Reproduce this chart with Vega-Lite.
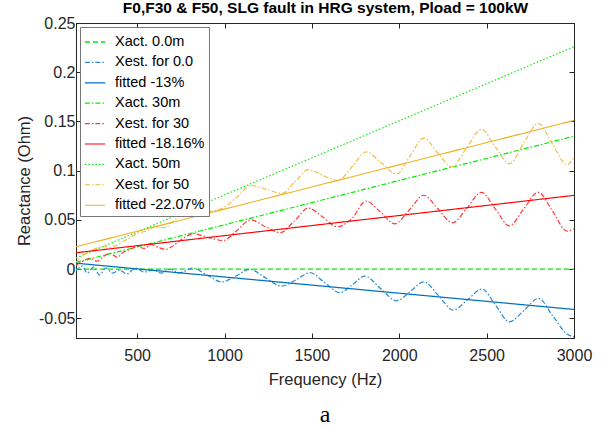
{
  "$schema": "https://vega.github.io/schema/vega-lite/v6.json",
  "autosize": "none",
  "width": 498,
  "height": 315,
  "padding": {"left": 76, "top": 23, "right": 33, "bottom": 88},
  "background": "white",
  "title": {"text": "a", "orient": "bottom", "anchor": "middle", "font": "Liberation Serif", "fontSize": 24, "fontWeight": "normal", "color": "#000", "offset": 15},
  "config": {
    "view": {"stroke": "#262626", "strokeWidth": 1},
    "axis": {"grid": false, "labelFlush": false, "labelOverlap": false, "labelFont": "Liberation Sans", "labelFontSize": 16, "labelColor": "#262626", "titleFont": "Liberation Sans", "titleFontSize": 16.5, "titleFontWeight": "normal", "titleColor": "#262626", "domainColor": "#262626", "tickColor": "#262626", "tickSize": -5, "domainWidth": 1, "tickWidth": 1}
  },
  "data": {"values": [
    {"s": "Xact. 0.0m", "f": 150, "x": 0},
    {"s": "Xact. 0.0m", "f": 3000, "x": 0},
    {"s": "Xact. 30m", "f": 150, "x": 0.0068},
    {"s": "Xact. 30m", "f": 3000, "x": 0.135},
    {"s": "Xact. 50m", "f": 150, "x": 0.0113},
    {"s": "Xact. 50m", "f": 3000, "x": 0.226},
    {"s": "fitted -13%", "f": 150, "x": 0.006},
    {"s": "fitted -13%", "f": 3000, "x": -0.041},
    {"s": "fitted -18.16%", "f": 150, "x": 0.0166},
    {"s": "fitted -18.16%", "f": 3000, "x": 0.0749},
    {"s": "fitted -22.07%", "f": 150, "x": 0.0227},
    {"s": "fitted -22.07%", "f": 3000, "x": 0.151},
    {"s": "Xest. for 0.0", "f": 150, "x": -0.002},
    {"s": "Xest. for 0.0", "f": 185, "x": 0.003},
    {"s": "Xest. for 0.0", "f": 215, "x": -0.004},
    {"s": "Xest. for 0.0", "f": 250, "x": 0.002},
    {"s": "Xest. for 0.0", "f": 285, "x": -0.006},
    {"s": "Xest. for 0.0", "f": 320, "x": 0.001},
    {"s": "Xest. for 0.0", "f": 360, "x": -0.004},
    {"s": "Xest. for 0.0", "f": 400, "x": -0.001},
    {"s": "Xest. for 0.0", "f": 440, "x": -0.005},
    {"s": "Xest. for 0.0", "f": 490, "x": 0.001},
    {"s": "Xest. for 0.0", "f": 540, "x": -0.003},
    {"s": "Xest. for 0.0", "f": 590, "x": -0.001},
    {"s": "Xest. for 0.0", "f": 640, "x": -0.004},
    {"s": "Xest. for 0.0", "f": 690, "x": 0.0},
    {"s": "Xest. for 0.0", "f": 740, "x": -0.004},
    {"s": "Xest. for 0.0", "f": 817, "x": 0.001},
    {"s": "Xest. for 0.0", "f": 900, "x": -0.006},
    {"s": "Xest. for 0.0", "f": 984, "x": -0.013},
    {"s": "Xest. for 0.0", "f": 1065, "x": -0.007},
    {"s": "Xest. for 0.0", "f": 1145, "x": -0.0003},
    {"s": "Xest. for 0.0", "f": 1236, "x": -0.009},
    {"s": "Xest. for 0.0", "f": 1327, "x": -0.0173},
    {"s": "Xest. for 0.0", "f": 1408, "x": -0.011},
    {"s": "Xest. for 0.0", "f": 1489, "x": -0.0037},
    {"s": "Xest. for 0.0", "f": 1575, "x": -0.014},
    {"s": "Xest. for 0.0", "f": 1660, "x": -0.024},
    {"s": "Xest. for 0.0", "f": 1731, "x": -0.016},
    {"s": "Xest. for 0.0", "f": 1803, "x": -0.0071},
    {"s": "Xest. for 0.0", "f": 1894, "x": -0.02},
    {"s": "Xest. for 0.0", "f": 1985, "x": -0.0322},
    {"s": "Xest. for 0.0", "f": 2062, "x": -0.023},
    {"s": "Xest. for 0.0", "f": 2140, "x": -0.0129},
    {"s": "Xest. for 0.0", "f": 2225, "x": -0.027},
    {"s": "Xest. for 0.0", "f": 2309, "x": -0.0417},
    {"s": "Xest. for 0.0", "f": 2392, "x": -0.031},
    {"s": "Xest. for 0.0", "f": 2474, "x": -0.0203},
    {"s": "Xest. for 0.0", "f": 2552, "x": -0.037},
    {"s": "Xest. for 0.0", "f": 2630, "x": -0.0535},
    {"s": "Xest. for 0.0", "f": 2714, "x": -0.042},
    {"s": "Xest. for 0.0", "f": 2797, "x": -0.0298},
    {"s": "Xest. for 0.0", "f": 2880, "x": -0.048},
    {"s": "Xest. for 0.0", "f": 2960, "x": -0.066},
    {"s": "Xest. for 0.0", "f": 3000, "x": -0.069},
    {"s": "Xest. for 30", "f": 150, "x": 0.004},
    {"s": "Xest. for 30", "f": 190, "x": 0.008},
    {"s": "Xest. for 30", "f": 230, "x": 0.011},
    {"s": "Xest. for 30", "f": 270, "x": 0.008},
    {"s": "Xest. for 30", "f": 310, "x": 0.013},
    {"s": "Xest. for 30", "f": 345, "x": 0.016},
    {"s": "Xest. for 30", "f": 385, "x": 0.012},
    {"s": "Xest. for 30", "f": 420, "x": 0.017},
    {"s": "Xest. for 30", "f": 460, "x": 0.02},
    {"s": "Xest. for 30", "f": 500, "x": 0.023},
    {"s": "Xest. for 30", "f": 540, "x": 0.021},
    {"s": "Xest. for 30", "f": 580, "x": 0.025},
    {"s": "Xest. for 30", "f": 620, "x": 0.022},
    {"s": "Xest. for 30", "f": 665, "x": 0.02},
    {"s": "Xest. for 30", "f": 700, "x": 0.023},
    {"s": "Xest. for 30", "f": 745, "x": 0.029},
    {"s": "Xest. for 30", "f": 790, "x": 0.034},
    {"s": "Xest. for 30", "f": 825, "x": 0.036},
    {"s": "Xest. for 30", "f": 870, "x": 0.034},
    {"s": "Xest. for 30", "f": 930, "x": 0.031},
    {"s": "Xest. for 30", "f": 990, "x": 0.029},
    {"s": "Xest. for 30", "f": 1070, "x": 0.039},
    {"s": "Xest. for 30", "f": 1150, "x": 0.05},
    {"s": "Xest. for 30", "f": 1235, "x": 0.043},
    {"s": "Xest. for 30", "f": 1320, "x": 0.037},
    {"s": "Xest. for 30", "f": 1400, "x": 0.049},
    {"s": "Xest. for 30", "f": 1480, "x": 0.062},
    {"s": "Xest. for 30", "f": 1562, "x": 0.053},
    {"s": "Xest. for 30", "f": 1645, "x": 0.043},
    {"s": "Xest. for 30", "f": 1727, "x": 0.051},
    {"s": "Xest. for 30", "f": 1810, "x": 0.069},
    {"s": "Xest. for 30", "f": 1892, "x": 0.058},
    {"s": "Xest. for 30", "f": 1975, "x": 0.046},
    {"s": "Xest. for 30", "f": 2057, "x": 0.06},
    {"s": "Xest. for 30", "f": 2140, "x": 0.075},
    {"s": "Xest. for 30", "f": 2222, "x": 0.061},
    {"s": "Xest. for 30", "f": 2305, "x": 0.047},
    {"s": "Xest. for 30", "f": 2387, "x": 0.062},
    {"s": "Xest. for 30", "f": 2470, "x": 0.078},
    {"s": "Xest. for 30", "f": 2550, "x": 0.061},
    {"s": "Xest. for 30", "f": 2630, "x": 0.044},
    {"s": "Xest. for 30", "f": 2712, "x": 0.061},
    {"s": "Xest. for 30", "f": 2795, "x": 0.078},
    {"s": "Xest. for 30", "f": 2877, "x": 0.059},
    {"s": "Xest. for 30", "f": 2960, "x": 0.0386},
    {"s": "Xest. for 30", "f": 3000, "x": 0.041},
    {"s": "Xest. for 50", "f": 150, "x": 0.007},
    {"s": "Xest. for 50", "f": 200, "x": 0.015},
    {"s": "Xest. for 50", "f": 240, "x": 0.019},
    {"s": "Xest. for 50", "f": 280, "x": 0.022},
    {"s": "Xest. for 50", "f": 305, "x": 0.023},
    {"s": "Xest. for 50", "f": 345, "x": 0.022},
    {"s": "Xest. for 50", "f": 390, "x": 0.025},
    {"s": "Xest. for 50", "f": 440, "x": 0.03},
    {"s": "Xest. for 50", "f": 500, "x": 0.036},
    {"s": "Xest. for 50", "f": 555, "x": 0.039},
    {"s": "Xest. for 50", "f": 610, "x": 0.043},
    {"s": "Xest. for 50", "f": 660, "x": 0.042},
    {"s": "Xest. for 50", "f": 700, "x": 0.048},
    {"s": "Xest. for 50", "f": 730, "x": 0.052},
    {"s": "Xest. for 50", "f": 770, "x": 0.057},
    {"s": "Xest. for 50", "f": 820, "x": 0.059},
    {"s": "Xest. for 50", "f": 870, "x": 0.058},
    {"s": "Xest. for 50", "f": 930, "x": 0.059},
    {"s": "Xest. for 50", "f": 990, "x": 0.062},
    {"s": "Xest. for 50", "f": 1070, "x": 0.073},
    {"s": "Xest. for 50", "f": 1150, "x": 0.085},
    {"s": "Xest. for 50", "f": 1240, "x": 0.081},
    {"s": "Xest. for 50", "f": 1330, "x": 0.077},
    {"s": "Xest. for 50", "f": 1405, "x": 0.089},
    {"s": "Xest. for 50", "f": 1480, "x": 0.101},
    {"s": "Xest. for 50", "f": 1565, "x": 0.095},
    {"s": "Xest. for 50", "f": 1650, "x": 0.09},
    {"s": "Xest. for 50", "f": 1730, "x": 0.104},
    {"s": "Xest. for 50", "f": 1810, "x": 0.119},
    {"s": "Xest. for 50", "f": 1897, "x": 0.108},
    {"s": "Xest. for 50", "f": 1985, "x": 0.0965},
    {"s": "Xest. for 50", "f": 2062, "x": 0.115},
    {"s": "Xest. for 50", "f": 2140, "x": 0.133},
    {"s": "Xest. for 50", "f": 2220, "x": 0.118},
    {"s": "Xest. for 50", "f": 2300, "x": 0.104},
    {"s": "Xest. for 50", "f": 2385, "x": 0.123},
    {"s": "Xest. for 50", "f": 2470, "x": 0.142},
    {"s": "Xest. for 50", "f": 2550, "x": 0.124},
    {"s": "Xest. for 50", "f": 2630, "x": 0.107},
    {"s": "Xest. for 50", "f": 2712, "x": 0.128},
    {"s": "Xest. for 50", "f": 2795, "x": 0.148},
    {"s": "Xest. for 50", "f": 2877, "x": 0.127},
    {"s": "Xest. for 50", "f": 2960, "x": 0.106},
    {"s": "Xest. for 50", "f": 3000, "x": 0.114}
  ]},
  "encoding": {
    "color": {"field": "s", "type": "nominal",
      "scale": {"domain": ["Xact. 0.0m", "Xest. for 0.0", "fitted -13%", "Xact. 30m", "Xest. for 30", "fitted -18.16%", "Xact. 50m", "Xest. for 50", "fitted -22.07%"],
                "range": ["#00ee00", "#2f8ed3", "#0072BD", "#00ee00", "#ff3a3a", "#ff0000", "#00ee00", "#f0bb3c", "#EDB120"]},
      "legend": {"title": null, "orient": "top-left", "offset": 4, "fillColor": "white", "strokeColor": "#777777", "padding": 4, "symbolType": "stroke", "symbolSize": 410, "labelFont": "Liberation Sans", "labelFontSize": 14.5, "labelColor": "#000", "rowPadding": 2.4, "labelOffset": 9, "labelLimit": 200}},
    "strokeDash": {"field": "s", "type": "nominal",
      "scale": {"domain": ["Xact. 0.0m", "Xest. for 0.0", "fitted -13%", "Xact. 30m", "Xest. for 30", "fitted -18.16%", "Xact. 50m", "Xest. for 50", "fitted -22.07%"],
                "range": [[5, 3], [5, 2, 1.5, 2], [1, 0], [5, 2, 1.5, 2], [5, 2, 1.5, 2], [1, 0], [1.5, 2], [5, 2, 1.5, 2], [1, 0]]}},
    "strokeWidth": {"field": "s", "type": "nominal",
      "scale": {"domain": ["Xact. 0.0m", "Xest. for 0.0", "fitted -13%", "Xact. 30m", "Xest. for 30", "fitted -18.16%", "Xact. 50m", "Xest. for 50", "fitted -22.07%"],
                "range": [1.3, 1.1, 1.4, 1.3, 1.1, 1.4, 1.4, 1.1, 1.4]}}
  },
  "layer": [
    {
      "transform": [{"filter": {"field": "s", "oneOf": ["Xact. 0.0m", "Xest. for 0.0", "Xact. 30m", "Xest. for 30", "Xact. 50m", "Xest. for 50"]}}],
      "mark": {"type": "line", "interpolate": "monotone", "clip": true},
      "encoding": {
        "x": {"field": "f", "type": "quantitative", "scale": {"domain": [150, 3000], "nice": false, "zero": false},
              "axis": {"orient": "bottom", "title": "Frequency (Hz)", "values": [500, 1000, 1500, 2000, 2500, 3000], "format": "d", "labelPadding": 14, "titlePadding": 8}},
        "y": {"field": "x", "type": "quantitative", "scale": {"domain": [-0.07, 0.25], "nice": false, "zero": false},
              "axis": {"orient": "left", "title": "Reactance (Ohm)", "values": [-0.05, 0, 0.05, 0.1, 0.15, 0.2, 0.25], "format": ".2~f", "labelExpr": "replace(datum.label, '\u2212', '-')", "labelPadding": 6, "titlePadding": 6}}
      }
    },
    {
      "transform": [{"filter": {"field": "s", "oneOf": ["fitted -13%", "fitted -18.16%", "fitted -22.07%"]}}],
      "mark": {"type": "line", "clip": true},
      "encoding": {
        "x": {"field": "f", "type": "quantitative", "scale": {"domain": [150, 3000], "nice": false, "zero": false},
              "axis": {"orient": "top", "title": "F0,F30 & F50, SLG fault in HRG system, Pload = 100kW", "titleFontWeight": "bold", "titleFontSize": 15.5, "titleColor": "#000", "values": [500, 1000, 1500, 2000, 2500, 3000], "labels": false, "titlePadding": 7}},
        "y": {"field": "x", "type": "quantitative", "scale": {"domain": [-0.07, 0.25], "nice": false, "zero": false},
              "axis": {"orient": "right", "title": null, "values": [-0.05, 0, 0.05, 0.1, 0.15, 0.2, 0.25], "labels": false}}
      }
    }
  ],
  "resolve": {"axis": {"x": "independent", "y": "independent"}}
}
